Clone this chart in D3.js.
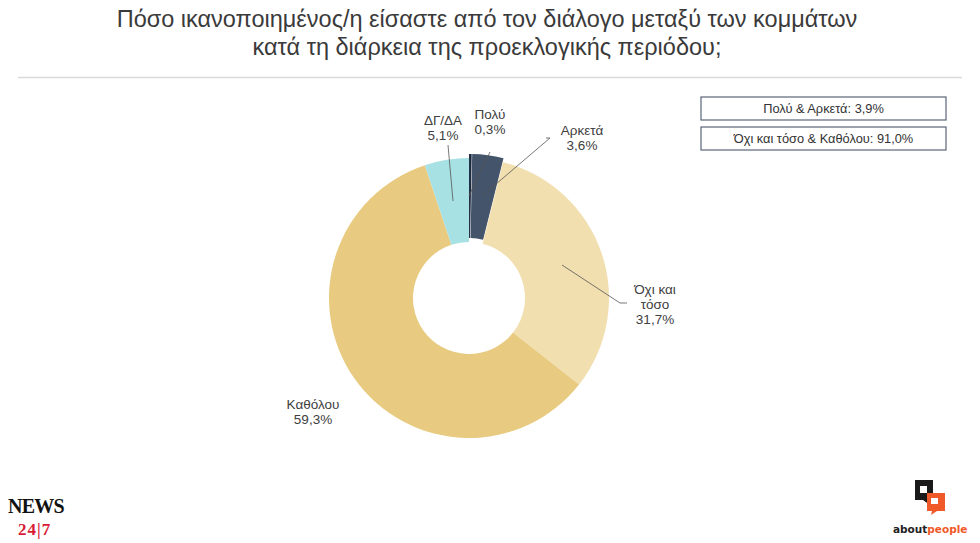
<!DOCTYPE html>
<html>
<head>
<meta charset="utf-8">
<script src="https://cdn.jsdelivr.net/npm/d3@7"></script>
<style>
  body { margin: 0; background: #fff; }
  text { font-family: "Liberation Sans", Arial, sans-serif; }
</style>
</head>
<body>
<div id="chart"></div>
<script>
// survey answers, clockwise from 12 o'clock
let categories = ["Πολύ", "Αρκετά", "Όχι και τόσο", "Καθόλου", "ΔΓ/ΔΑ"];
let values = [0.3, 3.6, 31.7, 59.3, 5.1];
let labelLines = [["Πολύ", "0,3%"], ["Αρκετά", "3,6%"], ["Όχι και", "τόσο", "31,7%"], ["Καθόλου", "59,3%"], ["ΔΓ/ΔΑ", "5,1%"]];
let colors = ["#1c2a41", "#44546a", "#f2dfb0", "#e8cb80", "#a8e1e4"];
let legendItems = ["Πολύ & Αρκετά: 3,9%", "Όχι και τόσο & Καθόλου: 91,0%"];
let titleLines = ["Πόσο ικανοποιημένος/η είσαστε από τον διάλογο μεταξύ των κομμάτων",
                  "κατά τη διάρκεια της προεκλογικής περιόδου;"];

let width = 980, height = 543;
let cx = 469, cy = 298, rOuter = 140, rInner = 56;

let svg = d3.select("#chart").append("svg")
  .attr("width", width).attr("height", height);

// title
svg.selectAll(".title")
  .data(titleLines)
  .enter().append("text")
  .attr("class", "title")
  .attr("x", 487)
  .attr("y", (d, i) => 27 + i * 28)
  .attr("text-anchor", "middle")
  .style("font-size", "23.5px")
  .style("fill", "#3a3a3a")
  .text(d => d);

svg.append("line")
  .attr("x1", 18).attr("x2", 962)
  .attr("y1", 77.5).attr("y2", 77.5)
  .style("stroke", "#d9d9d9").style("stroke-width", 1.5);

// donut
let pie = d3.pie().sort(null).value(d => d);
let arc = d3.arc().innerRadius(rInner).outerRadius(rOuter);
let arcs = pie(values);

let g = svg.append("g").attr("transform", "translate(" + cx + "," + cy + ")");

// the two "satisfied" slices are pulled out slightly
let explode = [4, 4, 0, 0, 0];
g.selectAll(".slice")
  .data(arcs)
  .enter().append("path")
  .attr("class", "slice")
  .attr("d", arc)
  .attr("transform", (d, i) => {
    let a = (d.startAngle + d.endAngle) / 2;
    return "translate(" + (Math.sin(a) * explode[i]) + "," + (-Math.cos(a) * explode[i]) + ")";
  })
  .style("fill", (d, i) => colors[i]);

// labels: position and leader lines
let labelPos = [[490, 119], [582, 135], [655, 294], [313, 409], [443, 125]];
let leaders = [
  [[490, 152], [469, 196]],
  [[546, 138], [550, 138], [482, 196]],
  [[562, 265], [620, 303], [627, 303]],
  null,
  [[448, 145], [453, 201]]
];

svg.selectAll(".leader")
  .data(leaders.filter(d => d))
  .enter().append("path")
  .attr("class", "leader")
  .attr("d", d3.line())
  .style("fill", "none")
  .style("stroke", "#555")
  .style("stroke-width", 0.8);

labelLines.forEach((lines, i) => {
  let t = svg.append("text")
    .attr("x", labelPos[i][0])
    .attr("y", labelPos[i][1])
    .attr("text-anchor", "middle")
    .style("font-size", "13.5px")
    .style("fill", "#404040");
  lines.forEach((s, j) => {
    t.append("tspan").attr("x", labelPos[i][0]).attr("dy", j ? 15 : 0).text(s);
  });
});

// legend boxes
let lg = svg.selectAll(".legend")
  .data(legendItems)
  .enter().append("g")
  .attr("class", "legend")
  .attr("transform", (d, i) => "translate(701," + (97 + i * 30) + ")");
lg.append("rect")
  .attr("width", 245).attr("height", 23)
  .style("fill", "#fff").style("stroke", "#5a6478").style("stroke-width", 1.2);
lg.append("text")
  .attr("x", 122.5).attr("y", 16)
  .attr("text-anchor", "middle")
  .style("font-size", "12.8px")
  .style("fill", "#333")
  .text(d => d);

// NEWS 24/7 logo
svg.append("text")
  .attr("x", 8).attr("y", 513)
  .style("font-family", "'Liberation Serif', serif")
  .style("font-weight", "bold")
  .style("font-size", "20px")
  .style("letter-spacing", "-0.8px")
  .style("fill", "#111")
  .text("NEWS");
svg.append("text")
  .attr("x", 18).attr("y", 535)
  .style("font-family", "'Liberation Serif', serif")
  .style("font-weight", "bold")
  .style("font-size", "17px")
  .style("letter-spacing", "1px")
  .style("fill", "#d71d35")
  .text("24|7");

// aboutpeople logo
let ap = svg.append("g").attr("transform", "translate(915,480)");
ap.append("path").attr("d", "M0,0 H18 V20 H12 L15,25 L8,20 H0 Z").style("fill", "#1a1a1a");
ap.append("rect").attr("x", 5).attr("y", 6).attr("width", 7).attr("height", 7).style("fill", "#fff");
ap.append("path").attr("d", "M12,13 H30 V31 H22 L16,35 L17,31 H12 Z").style("fill", "#f05a28");
ap.append("rect").attr("x", 16).attr("y", 18).attr("width", 7).attr("height", 6).style("fill", "#fff");
svg.append("text")
  .attr("x", 893).attr("y", 533)
  .style("font-family", "'DejaVu Sans', sans-serif")
  .style("font-weight", "bold")
  .style("font-size", "10.5px")
  .html('<tspan fill="#222">about</tspan><tspan fill="#f05a28">people</tspan>');
</script>
</body>
</html>
